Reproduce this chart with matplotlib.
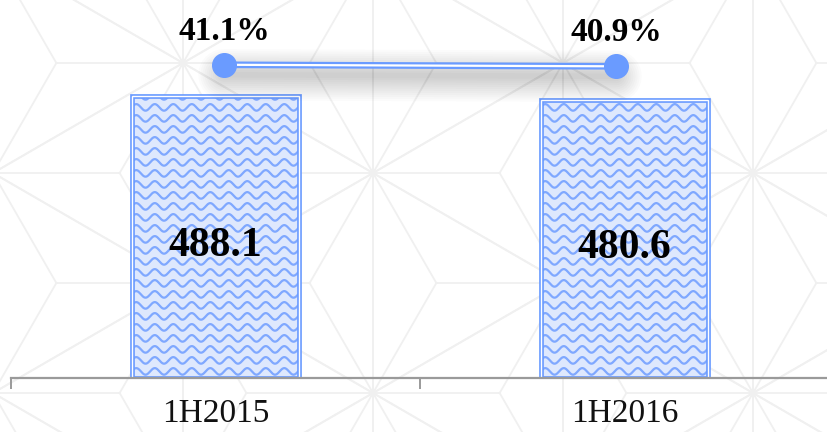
import numpy as np
import matplotlib
matplotlib.use("Agg")
import matplotlib.pyplot as plt
import matplotlib.transforms as mtransforms

# data
categories = ["1H2015", "1H2016"]
values = [488.1, 480.6]
ratios = [41.1, 40.9]

BLUE = "#6a9bff"
FILL = "#dee8fd"
WAVE = "#7fa8ff"
GRAY = "#9a9a9a"
SERIF = ["Liberation Serif", "DejaVu Serif"]

W, H = 827, 432
fig = plt.figure(figsize=(W / 100, H / 100), dpi=100)

# faint star / triangle background pattern (pixel coords)
bg = fig.add_axes([0, 0, 1, 1], zorder=-5)
bg.set_xlim(0, W)
bg.set_ylim(H, 0)
bg.axis("off")


def vert(i, j):
    return np.array([183 + 190 * i, 63 + 110 * i + 220 * j])


for i in range(-2, 5):
    for j in range(-3, 4):
        for tri in ([vert(i, j), vert(i, j + 1), vert(i + 1, j)],
                    [vert(i, j), vert(i + 1, j - 1), vert(i + 1, j)]):
            c = sum(tri) / 3
            for k in range(3):
                a, b = tri[k], tri[(k + 1) % 3]
                bg.plot([a[0], b[0]], [a[1], b[1]], color="#f0f0f0", lw=1.3)
                bg.plot([c[0], a[0]], [c[1], a[1]], color="#f0f0f0", lw=1.3)

# main bar axes
rect = [11 / W, 1 - 378 / H, 818 / W, 378 / H]
ax = fig.add_axes(rect, zorder=1)
ax.set_facecolor("none")
x = np.arange(len(categories))
ax.set_xlim(-0.5, 1.5)
ax.set_ylim(0, 654)

bar_w = 0.41
bars = ax.bar(x, values, width=bar_w, color=FILL, edgecolor="none", zorder=2)

# wavy hatch, clipped to each bar
px_x = 818 / 2.0          # pixels per x unit
px_y = 378 / 654.0        # pixels per y unit
period = 18.5 / px_x
amp = 3.3 / px_y
step = 11.0 / px_y
for b in bars:
    x0, x1 = b.get_x(), b.get_x() + b.get_width()
    xs = np.linspace(x0 - period, x1 + period, 400)
    for y0 in np.arange(step * 0.6, b.get_height() + step, step):
        ys = y0 + amp * np.sin(2 * np.pi * (xs - x0) / period)
        ln, = ax.plot(xs, ys, color=WAVE, lw=1.6, zorder=3, solid_capstyle="round")
        ln.set_clip_path(b)

# double border
ax.bar(x, values, width=bar_w, fill=False, edgecolor=BLUE, lw=3.4, zorder=4)
ax.bar(x, values, width=bar_w, fill=False, edgecolor="white", lw=1.0, zorder=5)

for xi, v in zip(x, values):
    ax.text(xi, v / 2 - 16, f"{v}", ha="center", va="center", fontsize=30,
            fontweight="bold", family=SERIF, color="black", zorder=6)

for s in ["top", "right", "left"]:
    ax.spines[s].set_visible(False)
ax.spines["bottom"].set_color(GRAY)
ax.spines["bottom"].set_linewidth(1.6)
ax.spines["bottom"].set_zorder(10)
ax.set_yticks([])
ax.set_xticks(x)
ax.set_xticklabels(categories, fontsize=24, family=SERIF, color="#111111")
ax.tick_params(axis="x", which="major", length=0, pad=15)
ax.set_xticks([-0.5, 0.5, 1.5], minor=True)
ax.tick_params(axis="x", which="minor", length=8, width=1.4, color=GRAY)

# ratio line on its own axes
ax2 = fig.add_axes(rect, zorder=2)
ax2.set_facecolor("none")
ax2.axis("off")
ax2.set_xlim(-0.543, 1.543)
ax2.set_ylim(0, 49.6)

# soft shadow under the line
for lw in range(4, 40, 3):
    off = mtransforms.offset_copy(ax2.transData, fig=fig, x=0, y=-10, units="dots")
    ax2.plot(x, ratios, color="black", lw=lw, alpha=0.016, transform=off,
             solid_capstyle="round", zorder=1)

ax2.plot(x, ratios, color=BLUE, lw=4.8, zorder=3)
ax2.plot(x, ratios, color="white", lw=1.6, zorder=4)
ax2.plot(x, ratios, "o", color=BLUE, ms=17, mec=BLUE, zorder=5)

for xi, r in zip(x, ratios):
    ax2.annotate(f"{r}%", (xi, r), xytext=(0, 13), textcoords="offset points",
                 ha="center", va="bottom", fontsize=24, fontweight="bold",
                 family=SERIF, color="black", zorder=6)

fig.savefig("out.png", dpi=100)
